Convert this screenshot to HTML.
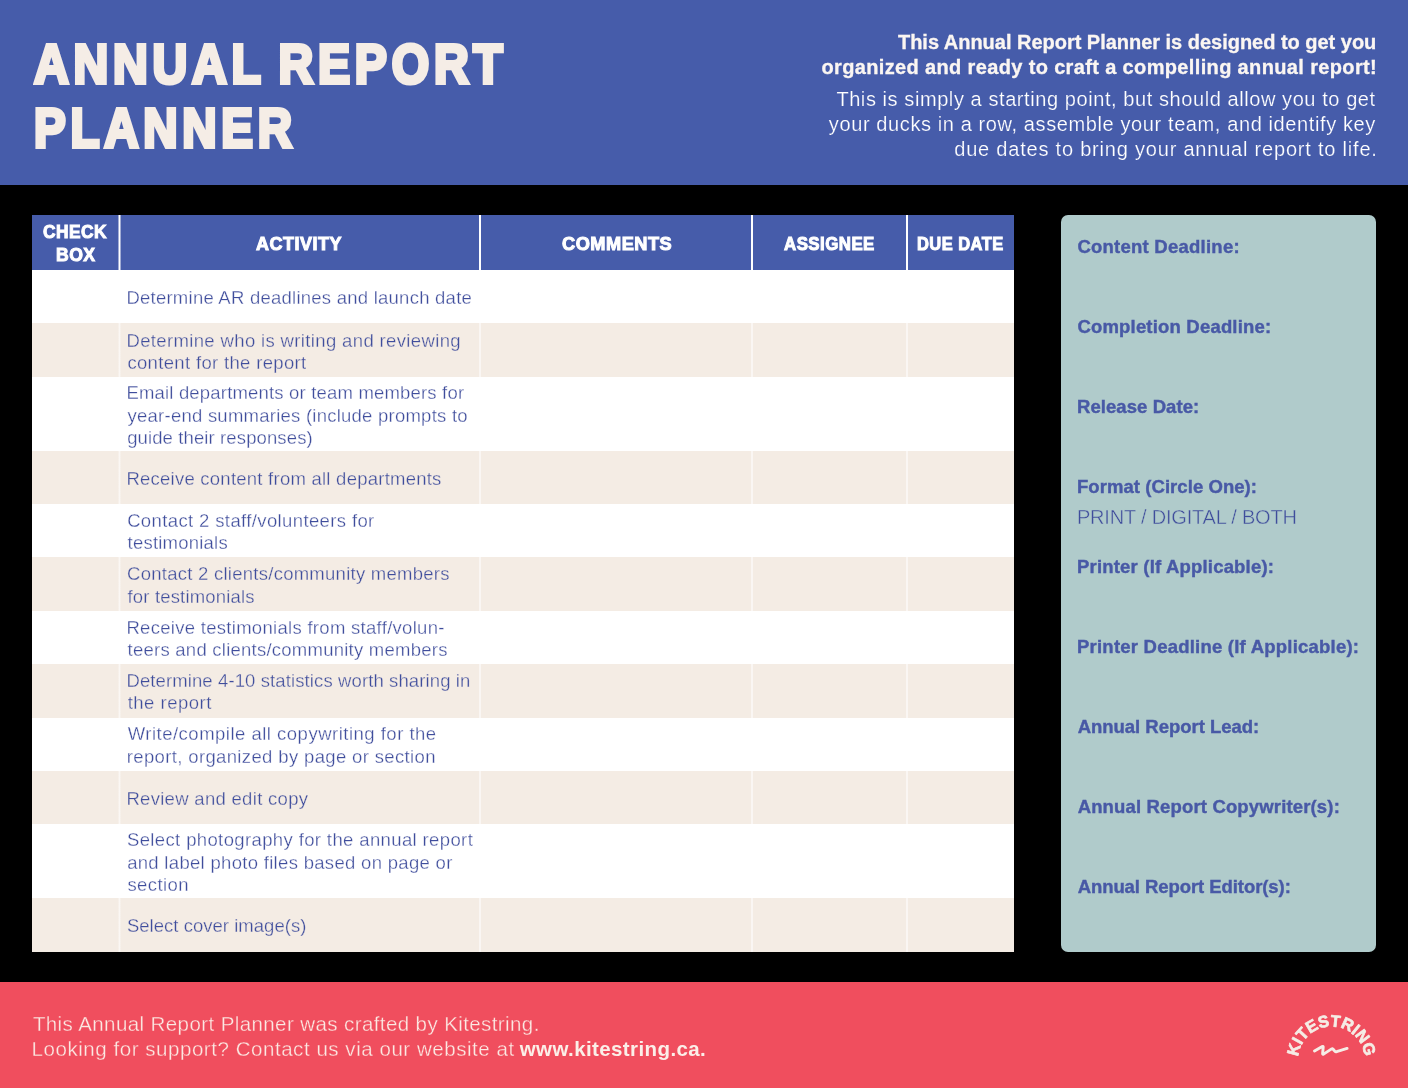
<!DOCTYPE html>
<html lang="en">
<head>
<meta charset="utf-8">
<title>Annual Report Planner</title>
<style>
*{margin:0;padding:0;box-sizing:border-box}
html,body{width:1408px;height:1088px;overflow:hidden;background:#000}
body{position:relative;font-family:"Liberation Sans",sans-serif}
h1{font:inherit}
.hdr{position:absolute;left:0;top:0;width:1408px;height:185px;background:#465caa}
.ftr{position:absolute;left:0;top:982px;width:1408px;height:106px;background:#f04e5e}
.side{position:absolute;left:1061px;top:215px;width:315px;height:737px;background:#b0cbcb;border-radius:7px}
.thead{position:absolute;left:32px;top:215px;width:982px;height:55px;background:#465caa}
.row{position:absolute;left:32px;width:982px;background:#fff}
.row.b{background:#f4ece4}
.sep{position:absolute;width:2px}
.sep.h{top:215px;height:55px;background:#fff}
.sep.b{top:270px;height:682px;background:rgba(255,255,255,.55)}
.sep.s1{width:3px;background:linear-gradient(90deg,rgba(255,255,255,.5) 0,rgba(255,255,255,.5) 1px,#fff 1px,#fff 2px,rgba(255,255,255,.5) 2px,rgba(255,255,255,.5) 3px)}
.sep.s1b{width:3px;background:linear-gradient(90deg,rgba(255,255,255,.25) 0,rgba(255,255,255,.25) 1px,rgba(255,255,255,.6) 1px,rgba(255,255,255,.6) 2px,rgba(255,255,255,.25) 2px,rgba(255,255,255,.25) 3px)}
.t{position:absolute;white-space:nowrap;line-height:1;display:block;transform-origin:0 0;stroke-linejoin:round;paint-order:stroke fill}
.logo{position:absolute;left:1268px;top:1000px;width:124px;height:70px;overflow:visible}

.title{font-size:55.7px;font-weight:700;color:#f5ede6;-webkit-text-stroke:4px #f5ede6;word-spacing:-5px;stroke-linejoin:miter}
.hb{font-size:20px;font-weight:700;color:#fbf6f2;-webkit-text-stroke:0.3px #fbf6f2}
.hr{font-size:20px;font-weight:400;color:#ffffff;-webkit-text-stroke:0.2px #465caa;paint-order:normal}
.th{font-size:18px;font-weight:700;color:#ffffff;-webkit-text-stroke:1px #ffffff}
.td{font-size:18.5px;font-weight:400;color:#3f4d9c;-webkit-text-stroke:0.3px #ffffff;paint-order:normal}
.tdb{font-size:18.5px;font-weight:400;color:#3f4d9c;-webkit-text-stroke:0.3px #f4ece4;paint-order:normal}
.sl{font-size:18.5px;font-weight:700;color:#4859a6;-webkit-text-stroke:0.4px #4859a6}
.so{font-size:20px;font-weight:400;color:#3f4d9c;-webkit-text-stroke:0.45px #b0cbcb;paint-order:normal}
.ft{font-size:20.5px;font-weight:400;color:#fbe9e3;-webkit-text-stroke:0.3px #f04e5e;paint-order:normal}
.fb{font-size:20.5px;font-weight:700;color:#fbefe8}
</style>
</head>
<body>
<header>
<div class="hdr"></div>
<h1>
<span class="t title" style="left:34.32px;top:37px;letter-spacing:5.500px;transform:scaleX(0.8639)">ANNUAL REPORT</span>
<span class="t title" style="left:34.41px;top:101px;letter-spacing:5.500px;transform:scaleX(0.8538)">PLANNER</span>
</h1>
<p class="t hb" style="left:897.96px;top:32px;letter-spacing:-0.020px">This Annual Report Planner is designed to get you</p>
<p class="t hb" style="left:821.45px;top:57px;letter-spacing:0.357px">organized and ready to craft a compelling annual report!</p>
<p class="t hr" style="left:836.38px;top:89px;letter-spacing:0.577px">This is simply a starting point, but should allow you to get</p>
<p class="t hr" style="left:828.85px;top:114px;letter-spacing:0.606px">your ducks in a row, assemble your team, and identify key</p>
<p class="t hr" style="left:954.22px;top:139px;letter-spacing:0.795px">due dates to bring your annual report to life.</p>
</header>
<main>
<div class="thead"></div>
<div class="row" style="top:270px;height:53px"></div>
<div class="row b" style="top:323px;height:54px"></div>
<div class="row" style="top:377px;height:74px"></div>
<div class="row b" style="top:451px;height:53px"></div>
<div class="row" style="top:504px;height:53px"></div>
<div class="row b" style="top:557px;height:54px"></div>
<div class="row" style="top:611px;height:53px"></div>
<div class="row b" style="top:664px;height:54px"></div>
<div class="row" style="top:718px;height:53px"></div>
<div class="row b" style="top:771px;height:53px"></div>
<div class="row" style="top:824px;height:74px"></div>
<div class="row b" style="top:898px;height:54px"></div>
<div class="sep h s1" style="left:118px"></div>
<div class="sep b s1b" style="left:118px"></div>
<div class="sep h" style="left:479px"></div>
<div class="sep b" style="left:479px"></div>
<div class="sep h" style="left:751px"></div>
<div class="sep b" style="left:751px"></div>
<div class="sep h" style="left:906px"></div>
<div class="sep b" style="left:906px"></div>
<div class="t th" style="left:42.82px;top:223px;letter-spacing:0.500px;transform:scaleX(0.9633)">CHECK</div>
<div class="t th" style="left:56.11px;top:246px;letter-spacing:0.500px;transform:scaleX(0.9763)">BOX</div>
<div class="t th" style="left:256.46px;top:235px;letter-spacing:0.500px;transform:scaleX(0.9984)">ACTIVITY</div>
<div class="t th" style="left:561.59px;top:235px;letter-spacing:0.500px;transform:scaleX(1.0110)">COMMENTS</div>
<div class="t th" style="left:784.13px;top:235px;letter-spacing:0.500px;transform:scaleX(0.9361)">ASSIGNEE</div>
<div class="t th" style="left:916.98px;top:235px;letter-spacing:0.500px;transform:scaleX(0.9155)">DUE DATE</div>
<div class="t td" style="left:126.42px;top:289px;letter-spacing:0.246px">Determine AR deadlines and launch date</div>
<div class="t tdb" style="left:126.42px;top:332px;letter-spacing:0.362px">Determine who is writing and reviewing</div>
<div class="t tdb" style="left:127.38px;top:354px;letter-spacing:0.340px">content for the report</div>
<div class="t td" style="left:126.42px;top:384px;letter-spacing:0.183px">Email departments or team members for</div>
<div class="t td" style="left:127.55px;top:407px;letter-spacing:0.242px">year-end summaries (include prompts to</div>
<div class="t td" style="left:127.16px;top:429px;letter-spacing:0.117px">guide their responses)</div>
<div class="t tdb" style="left:126.42px;top:470px;letter-spacing:0.244px">Receive content from all departments</div>
<div class="t td" style="left:127.14px;top:512px;letter-spacing:0.378px">Contact 2 staff/volunteers for</div>
<div class="t td" style="left:127.59px;top:534px;letter-spacing:0.222px">testimonials</div>
<div class="t tdb" style="left:127.10px;top:565px;letter-spacing:0.258px">Contact 2 clients/community members</div>
<div class="t tdb" style="left:127.56px;top:588px;letter-spacing:0.167px">for testimonials</div>
<div class="t td" style="left:126.42px;top:619px;letter-spacing:0.296px">Receive testimonials from staff/volun-</div>
<div class="t td" style="left:127.59px;top:641px;letter-spacing:0.244px">teers and clients/community members</div>
<div class="t tdb" style="left:126.42px;top:672px;letter-spacing:0.112px">Determine 4-10 statistics worth sharing in</div>
<div class="t tdb" style="left:127.63px;top:694px;letter-spacing:0.514px">the report</div>
<div class="t td" style="left:127.67px;top:725px;letter-spacing:0.496px">Write/compile all copywriting for the</div>
<div class="t td" style="left:126.80px;top:748px;letter-spacing:0.358px">report, organized by page or section</div>
<div class="t tdb" style="left:126.42px;top:790px;letter-spacing:0.302px">Review and edit copy</div>
<div class="t td" style="left:126.94px;top:831px;letter-spacing:0.376px">Select photography for the annual report</div>
<div class="t td" style="left:127.14px;top:854px;letter-spacing:0.310px">and label photo files based on page or</div>
<div class="t td" style="left:127.40px;top:876px;letter-spacing:0.408px">section</div>
<div class="t tdb" style="left:126.89px;top:917px;letter-spacing:0.029px">Select cover image(s)</div>
</main>
<aside>
<div class="side"></div>
<div class="t sl" style="left:1077.38px;top:238px;letter-spacing:0.245px">Content Deadline:</div>
<div class="t sl" style="left:1077.38px;top:318px;letter-spacing:0.192px">Completion Deadline:</div>
<div class="t sl" style="left:1077.03px;top:398px;letter-spacing:0.067px">Release Date:</div>
<div class="t sl" style="left:1077.03px;top:478px;letter-spacing:0.058px">Format (Circle One):</div>
<div class="t sl" style="left:1077.03px;top:558px;letter-spacing:0.189px">Printer (If Applicable):</div>
<div class="t sl" style="left:1077.03px;top:638px;letter-spacing:0.225px">Printer Deadline (If Applicable):</div>
<div class="t sl" style="left:1077.63px;top:718px;letter-spacing:-0.022px">Annual Report Lead:</div>
<div class="t sl" style="left:1077.63px;top:798px;letter-spacing:0.155px">Annual Report Copywriter(s):</div>
<div class="t sl" style="left:1077.63px;top:878px;letter-spacing:-0.069px">Annual Report Editor(s):</div>
<div class="t so" style="left:1076.93px;top:507px;letter-spacing:-0.195px">PRINT / DIGITAL / BOTH</div>
</aside>
<footer>
<div class="ftr"></div>
<p>
<span class="t ft" style="left:32.90px;top:1014px;letter-spacing:0.405px">This Annual Report Planner was crafted by Kitestring.</span>
<span class="t ft" style="left:31.58px;top:1039px;letter-spacing:0.547px">Looking for support? Contact us via our website at</span>
<span class="t fb" style="left:519.78px;top:1039px;letter-spacing:0.399px">www.kitestring.ca.</span>
</p>
<svg class="logo" viewBox="0 0 124 70">
<defs><path id="arc" d="M 32.01 71.32 A 33.40 33.40 0 1 1 94.79 71.32"/></defs>
<text font-family="Liberation Sans, sans-serif" font-weight="700" font-size="16.5" fill="#f5ede6" stroke="#f5ede6" stroke-width="0.7" stroke-linejoin="round"><textPath href="#arc" startOffset="50%" text-anchor="middle" textLength="98.6" lengthAdjust="spacingAndGlyphs">KITESTRING</textPath></text>
<path d="M46.5 51.1 L54.2 46.6 Q55.4 46 55.2 47.4 L54.6 53.6 Q54.6 54.8 55.6 54.1 L63.6 48.9 Q64.5 48.3 65.1 49.2 L67 51.4 Q67.6 52.1 68.6 51.7 L79.1 48.4" fill="none" stroke="#f5ede6" stroke-width="2.9" stroke-linecap="round" stroke-linejoin="round"/>
</svg>
</footer>
</body>
</html>
